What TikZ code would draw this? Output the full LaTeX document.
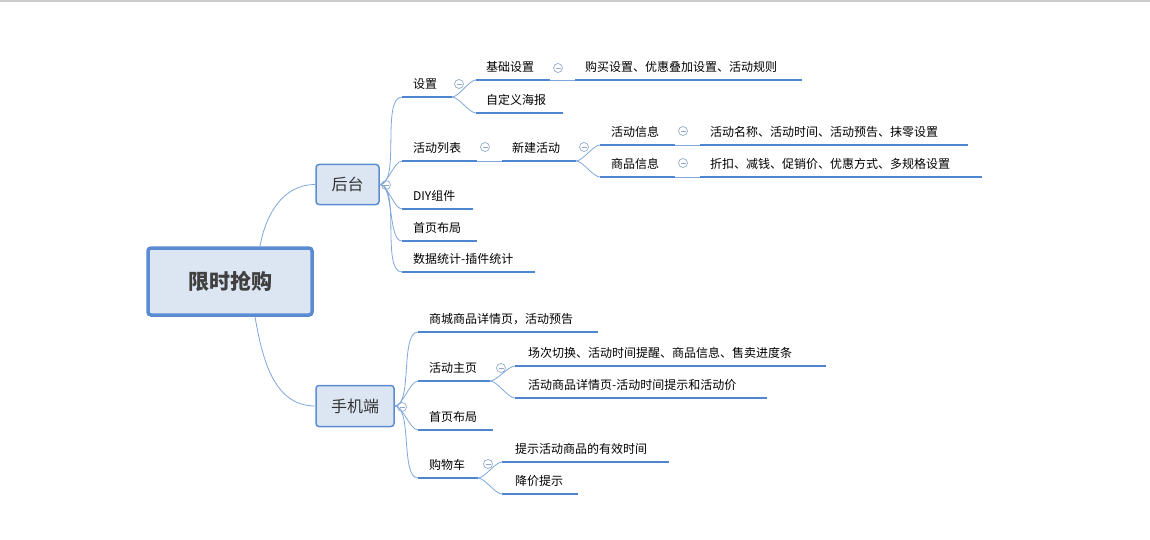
\documentclass[tikz,border=0pt]{standalone}
\usepackage{fontspec}
\setmainfont{Noto Sans CJK SC}
\begin{document}
\begin{tikzpicture}[x=1pt,y=-1pt,
  txt/.style={anchor=west,inner sep=0pt,font=\fontsize{12}{14}\selectfont},
  ul/.style={draw=ulc,line width=2.6pt},
  con/.style={draw=conc,line width=0.8pt},
  br/.style={con,out=0,in=180,looseness=0.6},
  fold/.style={circle,draw=foldc,line width=0.7pt,minimum size=9pt,inner sep=0pt,
    path picture={\draw[foldc,line width=0.7pt](path picture bounding box.center)+(-2.5,0)--+(2.5,0);}},
  box/.style={draw=boxc,fill=boxf,rounded corners=3pt,line width=1.5pt,inner sep=0pt}]
\definecolor{ulc}{HTML}{4F86D0}
\definecolor{conc}{HTML}{7FA7DC}
\definecolor{foldc}{HTML}{93A9C8}
\definecolor{boxc}{HTML}{5B8CD2}
\definecolor{boxf}{HTML}{DCE6F2}
\useasboundingbox (0,0) rectangle (1150,540);
\draw[gray!40,line width=1.5pt] (0,1) -- (1150,1);
% main boxes
\node[box,line width=3.5pt,minimum width=164pt,minimum height=67pt,font=\fontsize{21}{24}\selectfont\bfseries,text=black!75] (root) at (230,281.5) {限时抢购};
\node[box,minimum width=63pt,minimum height=40pt,font=\fontsize{16}{18}\selectfont,text=black!80] (ht) at (347.5,184.5) {后台};
\node[box,minimum width=78pt,minimum height=41pt,font=\fontsize{16}{18}\selectfont,text=black!80] (sj) at (355,406) {手机端};
\node[fold] (fht) at (386,185) {};
\node[fold] (fsj) at (402,407) {};
\draw[con] (root.north) ++(30,0) coordinate (rt) to[out=80,in=180] (ht.west);
\draw[con] (root.south) ++(25,0) coordinate (rb) to[out=-80,in=180] (sj.west);

% helper: topic text, underline
\newcommand\tp[6]{% name, xL, xR, yUnderline, xText, text
  \draw[ul] (#2,#4) coordinate (#1L) -- (#3,#4) coordinate (#1R);
  \node[txt] (#1) at (#5,#4-13) {#6};}
% 后台 branch
\tp{sz}{402}{452}{97}{413}{设置}
\tp{jc}{476}{550}{80}{486}{基础设置}
\tp{gm}{575}{802}{80}{585}{购买设置、优惠叠加设置、活动规则}
\tp{zd}{476}{563}{113}{486}{自定义海报}
\tp{lb}{402}{477}{161}{413}{活动列表}
\tp{xj}{502}{576}{161}{512}{新建活动}
\tp{hx}{600}{675}{145}{611}{活动信息}
\tp{hm}{700}{968}{145}{710}{活动名称、活动时间、活动预告、抹零设置}
\tp{sp}{600}{675}{177}{611}{商品信息}
\tp{zk}{700}{982}{177}{710}{折扣、减钱、促销价、优惠方式、多规格设置}
\tp{diy}{402}{473}{209}{413}{DIY组件}
\tp{sy}{402}{477}{241}{413}{首页布局}
\tp{tj}{402}{535}{272}{413}{数据统计-插件统计}
\node[fold] at (459,84) {};
\node[fold] at (558,68) {};
\node[fold] at (485,147) {};
\node[fold] at (584,147) {};
\node[fold] at (683,131) {};
\node[fold] at (683,163) {};
\foreach \c in {szL,lbL,diyL,syL,tjL} \draw[br] (ht.east) to (\c);
\draw[br] (szR) to (jcL); \draw[br] (szR) to (zdL);
\draw[con] (jcR) -- (gmL);
\draw[con] (lbR) -- (xjL);
\draw[br] (xjR) to (hxL); \draw[br] (xjR) to (spL);
\draw[con] (hxR) -- (hmL);
\draw[con] (spR) -- (zkL);
% 手机端 branch
\tp{sc}{418}{598}{332}{429}{商城商品详情页，活动预告}
\tp{zy}{418}{490}{381}{429}{活动主页}
\tp{cc}{515}{826}{366}{528}{场次切换、活动时间提醒、商品信息、售卖进度条}
\tp{xq}{515}{767}{398}{528}{活动商品详情页-活动时间提示和活动价}
\tp{sy2}{418}{493}{430}{429}{首页布局}
\tp{gw}{418}{478}{478}{429}{购物车}
\tp{ts}{502}{669}{462}{515}{提示活动商品的有效时间}
\tp{jj}{502}{578}{494}{515}{降价提示}
\node[fold] at (501,368) {};
\node[fold] at (488,464) {};
\foreach \c in {scL,zyL,sy2L,gwL} \draw[br] (sj.east) to (\c);
\draw[br] (zyR) to (ccL); \draw[br] (zyR) to (xqL);
\draw[br] (gwR) to (tsL); \draw[br] (gwR) to (jjL);
\end{tikzpicture}
\end{document}
